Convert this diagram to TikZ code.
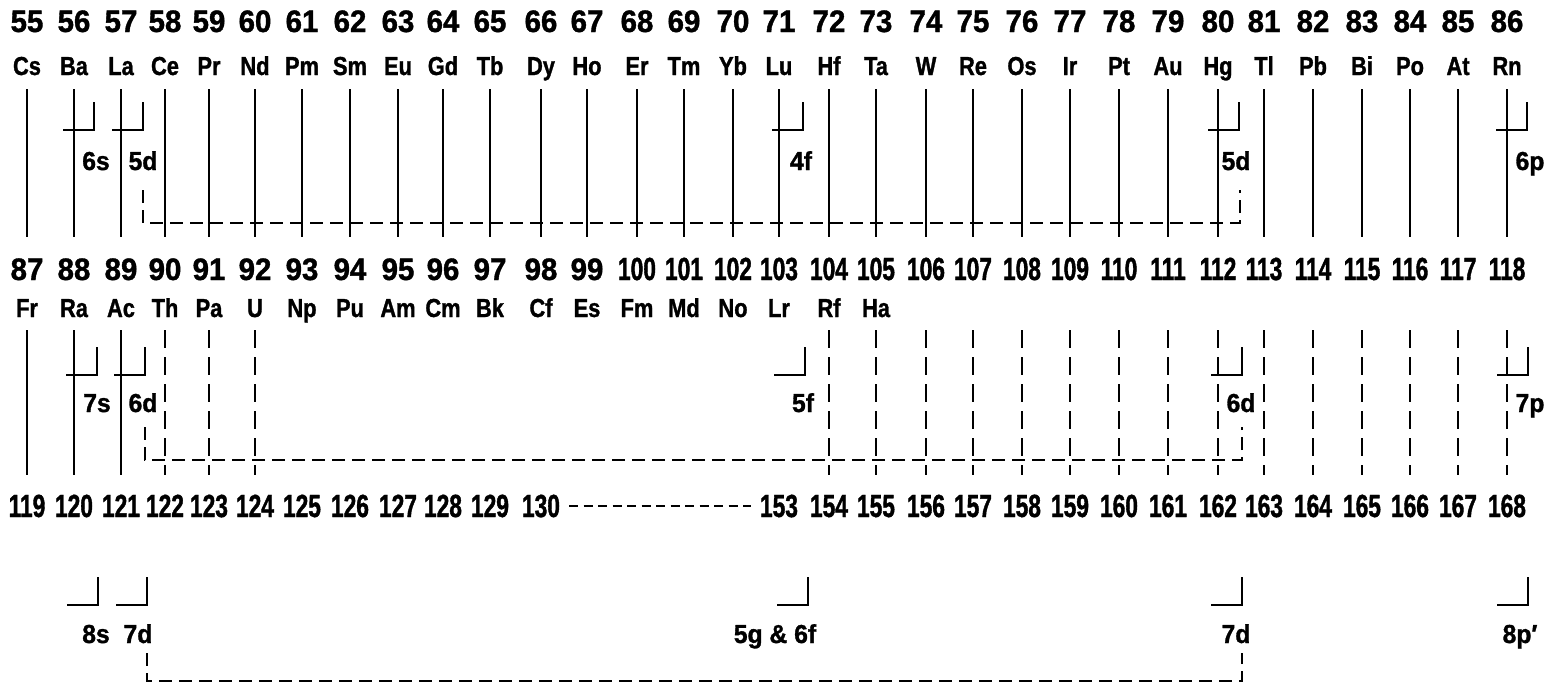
\documentclass[tikz,border=0pt]{standalone}
\usepackage{fontspec}
\newfontfamily\fnum[FakeStretch=0.95,FakeBold=1.2]{Liberation Sans}
\newfontfamily\fnar[FakeStretch=0.71,FakeBold=1.2]{Liberation Sans}
\newfontfamily\fsym[FakeStretch=0.84,FakeBold=1.2]{Liberation Sans}
\begin{document}
\begin{tikzpicture}[x=1pt,y=-1pt,
  num/.style={anchor=base,inner sep=0pt,font=\fnum\bfseries\fontsize{31}{31}\selectfont},
  numn/.style={anchor=base,inner sep=0pt,font=\fnar\bfseries\fontsize{32}{32}\selectfont},
  sym/.style={anchor=base,inner sep=0pt,font=\fsym\bfseries\fontsize{26}{26}\selectfont},
  lab/.style={anchor=base,inner sep=0pt,font=\fnum\bfseries\fontsize{26}{26}\selectfont},
  vl/.style={line width=1.6pt},
  vld/.style={line width=1.6pt,dash pattern=on 18pt off 9pt},
  brk/.style={line width=2.8pt},
  ldash/.style={line width=2.2pt,dash pattern=on 13pt off 7pt},
  brkt/.pic={\draw[brk] (-31,0) -- (0,0) -- (0,-28);}
]
\fill[white] (0,0) rectangle (1559,686);
\useasboundingbox (0,0) rectangle (1559,686);
\def\xs{{27,74,121,165,209,255,302,350,398,443,490,541,587,637,684,733,779,829,876,926,973,1022,1070,1119,1168,1218,1264,1313,1362,1410,1458,1507}}
% column coordinates and numbers
\foreach \i in {0,...,31}{
  \pgfmathsetmacro\x{\xs[\i]}
  \pgfmathtruncatemacro\a{55+\i}
  \pgfmathtruncatemacro\b{87+\i}
  \coordinate (c\i) at (\x,0);
  \node[num] (t\i) at (\x,32) {\a};
  \ifnum\b<100
    \node[num] (m\i) at (\x,280) {\b};
  \else
    \node[numn] (m\i) at (\x,280) {\b};
  \fi
  \draw[vl] (\x,89) -- (\x,237);
}
% bottom numbers
\foreach \i in {0,...,11}{
  \pgfmathsetmacro\x{\xs[\i]}
  \pgfmathtruncatemacro\c{119+\i}
  \node[numn] (b\i) at (\x,517) {\c};
}
\foreach \i in {16,...,31}{
  \pgfmathsetmacro\x{\xs[\i]}
  \pgfmathtruncatemacro\c{137+\i}
  \node[numn] (b\i) at (\x,517) {\c};
}
\draw[line width=2.2pt,dash pattern=on 9pt off 5.5pt,shorten <=9pt,shorten >=9pt] (b11.east) -- (b16.west);
% symbols
\foreach \s [count=\i from 0] in {Cs,Ba,La,Ce,Pr,Nd,Pm,Sm,Eu,Gd,Tb,Dy,Ho,Er,Tm,Yb,Lu,Hf,Ta,W,Re,Os,Ir,Pt,Au,Hg,Tl,Pb,Bi,Po,At,Rn}{
  \pgfmathsetmacro\x{\xs[\i]}
  \node[sym] (s\i) at (\x,75) {\s};
}
\foreach \s [count=\i from 0] in {Fr,Ra,Ac,Th,Pa,U,Np,Pu,Am,Cm,Bk,Cf,Es,Fm,Md,No,Lr,Rf,Ha}{
  \pgfmathsetmacro\x{\xs[\i]}
  \node[sym] (r\i) at (\x,317) {\s};
}
% middle row lines
\foreach \i in {0,1,2}{
  \pgfmathsetmacro\x{\xs[\i]}
  \draw[vl] (\x,330) -- (\x,475);
}
\foreach \i in {3,4,5,17,18,19,20,21,22,23,24,25,26,27,28,29,30,31}{
  \pgfmathsetmacro\x{\xs[\i]}
  \draw[vld] (\x,330) -- (\x,475);
}
% top brackets and labels
\pic at (94,130) {brkt};
\pic at (143,130) {brkt};
\pic at (803,130) {brkt};
\pic at (1239,130) {brkt};
\pic at (1527,130) {brkt};
\node[lab] (l6s) at (96,170) {6s};
\node[lab] (l5d) at (143,170) {5d};
\node[lab] (l4f) at (801,170) {4f};
\node[lab] (l5dr) at (1236,170) {5d};
\node[lab] (l6p) at (1530,170) {6p};
% middle brackets and labels
\pic at (97,375) {brkt};
\pic at (145,375) {brkt};
\pic at (805,375) {brkt};
\pic at (1242,375) {brkt};
\pic at (1528,375) {brkt};
\node[lab] (l7s) at (97,412) {7s};
\node[lab] (l6d) at (143,412) {6d};
\node[lab] (l5f) at (803,412) {5f};
\node[lab] (l6dr) at (1241,412) {6d};
\node[lab] (l7p) at (1530,412) {7p};
% bottom brackets and labels
\pic at (98,605) {brkt};
\pic at (147,605) {brkt};
\pic at (808,605) {brkt};
\pic at (1242,605) {brkt};
\pic at (1528,605) {brkt};
\node[lab] (l8s) at (96,643) {8s};
\node[lab] (l7d) at (138,643) {7d};
\node[lab] (l5g) at (775,643) {5g \& 6f};
\node[lab] (l7dr) at (1236,643) {7d};
\node[lab] (l8p) at (1520,643) {8p′};
% dashed L connectors
\coordinate (a1) at (143,190); \coordinate (a2) at (1240,190);
\draw[ldash] (a1) -- (143,223) -- (1240,223) -- (a2);
\coordinate (d1) at (145,427); \coordinate (d2) at (1242,427);
\draw[ldash] (d1) -- (145,460) -- (1242,460) -- (d2);
\coordinate (e1) at (147,653); \coordinate (e2) at (1242,653);
\draw[ldash] (e1) -- (147,681) -- (1242,681) -- (e2);
\end{tikzpicture}
\end{document}
